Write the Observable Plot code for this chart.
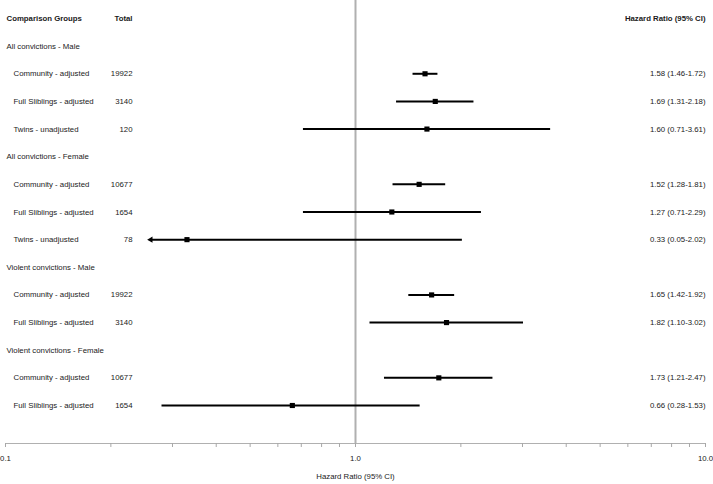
<!DOCTYPE html>
<html>
<head>
<meta charset="utf-8">
<script src="https://cdn.jsdelivr.net/npm/d3@7"></script>
<script src="https://cdn.jsdelivr.net/npm/@observablehq/plot@0.6"></script>
<style>
  html, body { margin: 0; padding: 0; background: #fff; }
  #chart svg { display: block; }
</style>
</head>
<body>
<div id="chart"></div>
<script>
// ---- data ----
const groups = ["All convictions - Male", "All convictions - Female", "Violent convictions - Male", "Violent convictions - Female"];
const comparison = ["Community - adjusted", "Full Sliblings - adjusted", "Twins - unadjusted",
                    "Community - adjusted", "Full Sliblings - adjusted", "Twins - unadjusted",
                    "Community - adjusted", "Full Sliblings - adjusted",
                    "Community - adjusted", "Full Sliblings - adjusted"];
const groupOf = [0, 0, 0, 1, 1, 1, 2, 2, 3, 3];
const total = [19922, 3140, 120, 10677, 1654, 78, 19922, 3140, 10677, 1654];
const hr    = [1.58, 1.69, 1.60, 1.52, 1.27, 0.33, 1.65, 1.82, 1.73, 0.66];
const lower = [1.46, 1.31, 0.71, 1.28, 0.71, 0.05, 1.42, 1.10, 1.21, 0.28];
const upper = [1.72, 2.18, 3.61, 1.81, 2.29, 2.02, 1.92, 3.02, 2.47, 1.53];
const displayFloor = 0.26;   // CI ends below this are drawn as an arrow
const majorTicks = [0.1, 1, 10];
const minorTicks = [0.2, 0.3, 0.4, 0.5, 0.6, 0.7, 0.8, 0.9, 2, 3, 4, 5, 6, 7, 8, 9];
const headers = {groups: "Comparison Groups", total: "Total", hr: "Hazard Ratio (95% CI)"};
const xTitle = "Hazard Ratio (95% CI)";

// ---- build rows ----
const groupRows = [];
const estRows = [];
let r = 1;
groups.forEach((g, gi) => {
  groupRows.push({row: r++, label: g});
  comparison.forEach((c, i) => {
    if (groupOf[i] !== gi) return;
    estRows.push({
      row: r++, label: c, total: String(total[i]),
      hr: hr[i], lo: lower[i], hi: upper[i],
      loShown: Math.max(lower[i], displayFloor),
      clipped: lower[i] < displayFloor,
      txt: `${hr[i].toFixed(2)} (${lower[i].toFixed(2)}-${upper[i].toFixed(2)})`
    });
  });
});
const nRows = r - 1;

const font = "'Liberation Sans', Arial, Helvetica, sans-serif";
const fs = 7.8;
const ink = "#1a1a1a";

const chart = Plot.plot({
  width: 713,
  height: 484,
  marginTop: 0,
  marginLeft: 5,
  marginRight: 8,
  marginBottom: 41,
  style: {fontFamily: font, fontSize: fs + "px", color: ink, background: "#fff"},
  x: {type: "log", domain: [0.1, 10]},
  y: {domain: [0, nRows], range: [18, 405], axis: null},
  marks: [
    Plot.ruleX([1], {stroke: "#b0b0b0", strokeWidth: 2}),
    Plot.frame({anchor: "bottom", stroke: "#b0b0b0"}),
    Plot.axisX({ticks: minorTicks, tickFormat: () => "", tickSize: 4, stroke: "#a8a8a8", strokeOpacity: 1}),
    Plot.axisX({ticks: majorTicks, tickFormat: d => d.toFixed(1), tickSize: 4, tickPadding: 8, stroke: "#a8a8a8", strokeOpacity: 1, fill: ink, fontSize: fs}),
    Plot.text([xTitle], {frameAnchor: "bottom", dy: 35, fill: ink, fontSize: fs}),
    // header
    Plot.text([headers.groups], {frameAnchor: "left", y: () => 0, dx: 1, textAnchor: "start", fontWeight: "bold", fill: ink, fontSize: fs}),
    Plot.text([headers.total], {frameAnchor: "left", y: () => 0, dx: 127, textAnchor: "end", fontWeight: "bold", fill: ink, fontSize: fs}),
    Plot.text([headers.hr], {frameAnchor: "right", y: () => 0, textAnchor: "end", fontWeight: "bold", fill: ink, fontSize: fs}),
    // group labels
    Plot.text(groupRows, {y: "row", text: "label", frameAnchor: "left", dx: 1, textAnchor: "start", fill: ink, fontSize: fs}),
    // comparison labels
    Plot.text(estRows, {y: "row", text: "label", frameAnchor: "left", dx: 8, textAnchor: "start", fill: ink, fontSize: fs}),
    Plot.text(estRows, {y: "row", text: "total", frameAnchor: "left", dx: 127, textAnchor: "end", fill: ink, fontSize: fs}),
    Plot.text(estRows, {y: "row", text: "txt", frameAnchor: "right", textAnchor: "end", fill: ink, fontSize: fs}),
    // CIs
    Plot.ruleY(estRows, {y: "row", x1: "loShown", x2: "hi", stroke: "#000", strokeWidth: 2}),
    Plot.dot(estRows.filter(d => d.clipped), {y: "row", x: "loShown", symbol: "triangle", rotate: -90, r: 2.3, fill: "#000", stroke: "none"}),
    Plot.dot(estRows, {y: "row", x: "hr", symbol: "square", r: 2.9, fill: "#000", stroke: "none"})
  ]
});
document.getElementById("chart").appendChild(chart);
</script>
</body>
</html>
